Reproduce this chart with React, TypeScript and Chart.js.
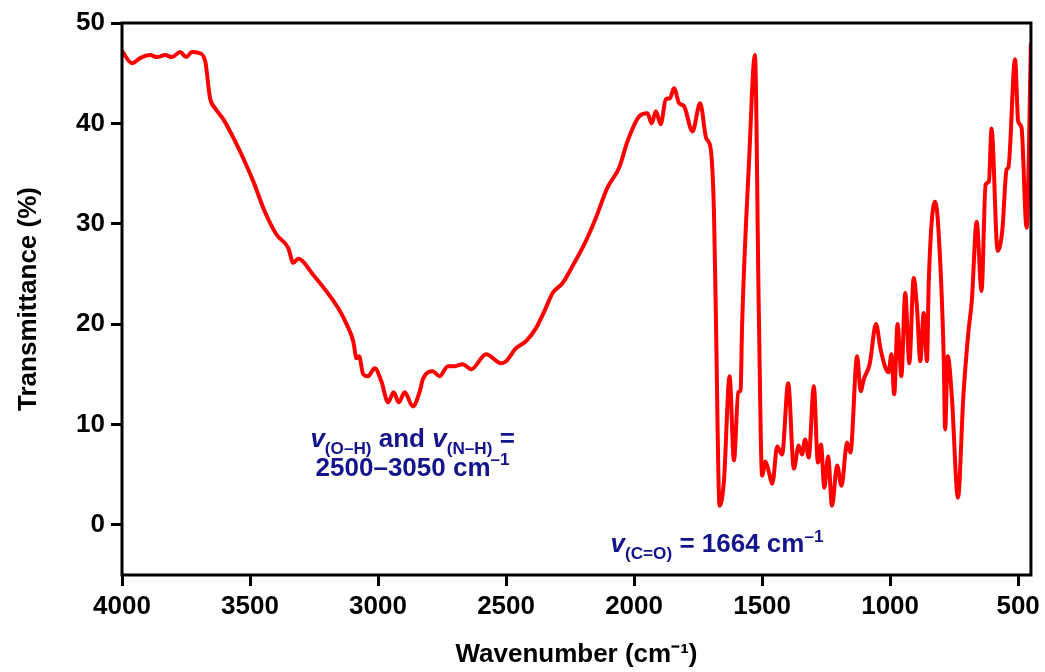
import { useEffect, useRef } from 'react';
import { Chart, registerables } from 'chart.js';

Chart.register(...registerables);

// FTIR spectrum: wavenumber (cm-1) vs transmittance (%)
const wavenumbers = [
  4000, 3961, 3929, 3890, 3864, 3831, 3805, 3773, 3749, 3727, 3698, 3675, 3656, 3636, 3604,
  3558, 3526, 3487, 3442, 3396, 3351, 3331, 3312, 3253, 3156, 3123, 3097, 3084, 3074, 3058,
  3039, 3013, 2987, 2961, 2939, 2919, 2896, 2864, 2837, 2825, 2786, 2760, 2727, 2700, 2669,
  2636, 2578, 2519, 2500, 2461, 2422, 2383, 2350, 2318, 2279, 2240, 2188, 2149, 2104, 2058,
  2026, 1980, 1948, 1931, 1915, 1896, 1876, 1860, 1844, 1824, 1805, 1772, 1742, 1718, 1701,
  1688, 1681, 1666, 1649, 1627, 1610, 1593, 1584, 1578, 1551, 1528, 1513, 1500, 1487, 1474,
  1460, 1441, 1422, 1398, 1376, 1357, 1344, 1332, 1318, 1298, 1282, 1270, 1257, 1242, 1227,
  1207, 1190, 1168, 1155, 1129, 1115, 1103, 1080, 1055, 1038, 1019, 1006, 995, 984, 971,
  956, 941, 925, 908, 895, 882, 869, 856, 849, 824, 811, 791, 785, 775, 759,
  735, 714, 694, 681, 662, 643, 627, 614, 604, 580, 562, 545, 538, 512, 500,
  487, 467, 450,
];

const transmittance = [
  47.2, 46.0, 46.5, 46.8, 46.6, 46.8, 46.6, 47.1, 46.6, 47.1, 47.0, 46.2, 42.5, 41.5, 40.4,
  38.2, 36.5, 34.2, 31.2, 28.9, 27.6, 26.1, 26.5, 24.9, 21.6, 20.0, 18.3, 16.6, 16.8, 15.0,
  14.8, 15.6, 14.3, 12.2, 13.2, 12.2, 13.2, 11.8, 13.3, 14.5, 15.3, 14.8, 15.8, 15.8, 16.0,
  15.5, 17.0, 16.1, 16.3, 17.6, 18.3, 19.6, 21.3, 23.1, 24.1, 25.8, 28.3, 30.6, 33.6, 35.6,
  38.2, 40.7, 41.0, 40.0, 41.2, 39.9, 42.4, 42.5, 43.5, 42.0, 41.7, 39.2, 42.0, 38.5, 37.5,
  31.2, 21.5, 1.9, 4.4, 14.8, 6.4, 13.2, 13.4, 20.0, 36.2, 46.8, 21.5, 4.9, 6.3, 5.3,
  4.1, 7.8, 7.0, 14.1, 5.6, 7.9, 7.0, 8.5, 6.7, 13.8, 6.2, 8.0, 3.7, 6.8, 1.9,
  5.9, 3.9, 8.2, 7.2, 16.8, 13.3, 14.5, 16.0, 20.0, 17.6, 15.7, 15.2, 17.0, 13.0, 20.0,
  14.8, 23.1, 16.1, 24.6, 21.6, 16.3, 21.1, 16.3, 24.3, 32.2, 29.3, 17.0, 9.5, 16.8, 12.8,
  2.7, 12.8, 19.3, 22.3, 30.2, 23.3, 33.9, 34.2, 39.5, 27.3, 29.3, 35.4, 35.6, 46.4, 40.2,
  39.6, 29.6, 48.0,
];

const xTicks = [4000, 3500, 3000, 2500, 2000, 1500, 1000, 500];
const yTicks = [0, 10, 20, 30, 40, 50];
const xTitle = 'Wavenumber (cm\u207B\u00B9)';
const yTitle = 'Transmittance (%)';

type Seg = { text: string; kind: 'normal' | 'italic' | 'sub' | 'sup' };

const ohLine1: Seg[] = [
  { text: 'v', kind: 'italic' },
  { text: '(O\u2013H)', kind: 'sub' },
  { text: ' and ', kind: 'normal' },
  { text: 'v', kind: 'italic' },
  { text: '(N\u2013H)', kind: 'sub' },
  { text: ' =', kind: 'normal' },
];
const ohLine2: Seg[] = [
  { text: '2500\u20133050 cm', kind: 'normal' },
  { text: '\u20131', kind: 'sup' },
];
const coLine: Seg[] = [
  { text: 'v', kind: 'italic' },
  { text: '(C=O)', kind: 'sub' },
  { text: ' = 1664 cm', kind: 'normal' },
  { text: '\u20131', kind: 'sup' },
];

// annotation anchors in data units: [wavenumber, transmittance at baseline]
const annotations: { at: [number, number]; segs: Seg[] }[] = [
  { at: [2865, 7.8], segs: ohLine1 },
  { at: [2865, 4.9], segs: ohLine2 },
  { at: [1676, -2.7], segs: coLine },
];

const FAMILY = '"Liberation Sans", Arial, Helvetica, sans-serif';
const LABEL_COLOR = '#14148c';
const LABEL_SIZE = 26;

function drawRich(ctx: CanvasRenderingContext2D, segs: Seg[], cx: number, baseY: number) {
  const parts = segs.map((s) => {
    const small = s.kind === 'sub' || s.kind === 'sup';
    const size = small ? LABEL_SIZE * 0.66 : LABEL_SIZE;
    const font = `${s.kind === 'italic' ? 'italic ' : ''}bold ${size}px ${FAMILY}`;
    ctx.font = font;
    const w = ctx.measureText(s.text).width;
    const dy = s.kind === 'sub' ? LABEL_SIZE * 0.28 : s.kind === 'sup' ? -LABEL_SIZE * 0.4 : 0;
    return { text: s.text, font, w, dy };
  });
  const total = parts.reduce((a, p) => a + p.w, 0);
  let x = cx - total / 2;
  ctx.textBaseline = 'alphabetic';
  ctx.textAlign = 'left';
  for (const p of parts) {
    ctx.font = p.font;
    ctx.fillText(p.text, x, baseY + p.dy);
    x += p.w;
  }
}

const framePlugin = {
  id: 'frameAndLabels',
  afterDatasetsDraw(chart: any) {
    const { ctx, chartArea } = chart;
    const { left, top, right, bottom } = chartArea;
    ctx.save();
    ctx.strokeStyle = '#000';
    ctx.lineWidth = 3;
    ctx.strokeRect(left, top, right - left, bottom - top);
    ctx.fillStyle = LABEL_COLOR;
    const xs = chart.scales.x;
    const ys = chart.scales.y;
    for (const a of annotations) {
      drawRich(ctx, a.segs, xs.getPixelForValue(a.at[0]), ys.getPixelForValue(a.at[1]));
    }
    ctx.restore();
  },
};

export default function App() {
  const canvasRef = useRef<HTMLCanvasElement | null>(null);

  useEffect(() => {
    document.body.style.margin = '0';
    const canvas = canvasRef.current;
    if (!canvas) return;
    const tickFont = { family: FAMILY, size: 26, weight: 'bold' as const };
    const chart = new Chart(canvas, {
      type: 'line',
      data: {
        datasets: [
          {
            data: wavenumbers.map((w, i) => ({ x: w, y: transmittance[i] })),
            borderColor: '#ff0000',
            borderWidth: 4,
            pointRadius: 0,
            cubicInterpolationMode: 'monotone',
            fill: false,
          },
        ],
      },
      options: {
        responsive: false,
        animation: false,
        layout: { padding: { top: 23, right: 12, left: 0, bottom: 0 } },
        plugins: { legend: { display: false }, tooltip: { enabled: false } },
        scales: {
          x: {
            type: 'linear',
            reverse: true,
            min: 450,
            max: 4000,
            afterBuildTicks: (scale: any) => {
              scale.ticks = xTicks.map((value) => ({ value }));
            },
            afterFit: (scale: any) => {
              scale.height = 97;
            },
            grid: {
              display: true,
              drawOnChartArea: false,
              drawTicks: true,
              tickLength: 11,
              tickWidth: 3,
              tickColor: '#000',
            },
            border: { display: false },
            ticks: {
              color: '#000',
              font: tickFont,
              padding: 5,
              maxRotation: 0,
              autoSkip: false,
              callback: (v: any) => String(v),
            },
            title: {
              display: true,
              text: xTitle,
              color: '#000',
              font: tickFont,
              padding: { top: 0, bottom: 2 },
            },
          },
          y: {
            type: 'linear',
            min: -5,
            max: 50,
            afterBuildTicks: (scale: any) => {
              scale.ticks = yTicks.map((value) => ({ value }));
            },
            afterFit: (scale: any) => {
              scale.width = 122;
            },
            grid: {
              display: true,
              drawOnChartArea: false,
              drawTicks: true,
              tickLength: 11,
              tickWidth: 3,
              tickColor: '#000',
            },
            border: { display: false },
            ticks: {
              color: '#000',
              font: tickFont,
              padding: 6,
              callback: (v: any) => String(v),
            },
            title: {
              display: true,
              text: yTitle,
              color: '#000',
              font: tickFont,
              padding: { top: 13, bottom: 0 },
            },
          },
        },
      },
      plugins: [framePlugin],
    });
    return () => chart.destroy();
  }, []);

  return (
    <div style={{ width: 1045, height: 672 }}>
      <canvas ref={canvasRef} width={1045} height={672} />
    </div>
  );
}
